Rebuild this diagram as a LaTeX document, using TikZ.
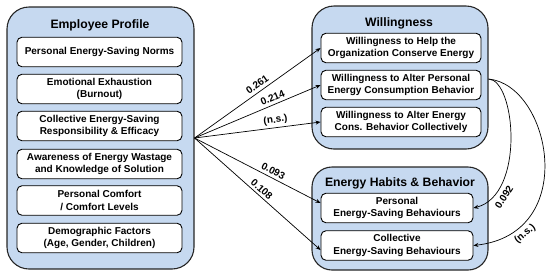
\documentclass[tikz,border=0pt]{standalone}
\usepackage{fontspec}
\setmainfont{Liberation Sans}
\usetikzlibrary{arrows.meta,calc}
\definecolor{boxblue}{RGB}{198,217,240}
\begin{document}
\begin{tikzpicture}[x=1pt,y=-1pt,
  outer/.style={draw=black!85, line width=1.1pt, fill=boxblue, rounded corners=22pt},
  inner/.style={draw=black, line width=0.9pt, fill=white, rounded corners=5pt, align=center,
    font=\fontsize{10}{12.5}\selectfont\bfseries, inner sep=0pt, minimum height=29.5pt},
  ttl/.style={font=\fontsize{12.2}{14}\selectfont\bfseries},
  arr/.style={-{Stealth[length=5pt,width=4pt]}, line width=0.7pt},
  lbl/.style={font=\fontsize{10}{11}\selectfont\bfseries, inner sep=1.5pt}]
\useasboundingbox (0,0) rectangle (550,277);

% Employee profile
\node[outer, minimum width=187pt, minimum height=262pt] (EP) at (100.5,138) {};
\node[ttl] (EPt) at (100,25) {Employee Profile};
\node[inner, minimum width=165pt] (P1) at (99.5,52) {Personal Energy-Saving Norms};
\node[inner, minimum width=165pt] (P2) at (99.5,89) {Emotional Exhaustion\\(Burnout)};
\node[inner, minimum width=165pt] (P3) at (99.5,126) {Collective Energy-Saving\\Responsibility \& Efficacy};
\node[inner, minimum width=165pt] (P4) at (99.5,164) {Awareness of Energy Wastage\\and Knowledge of Solution};
\node[inner, minimum width=165pt] (P5) at (99.5,200.5) {Personal Comfort\\/ Comfort Levels};
\node[inner, minimum width=165pt] (P6) at (99.5,238) {Demographic Factors\\(Age, Gender, Children)};

% Willingness
\node[outer, minimum width=176pt, minimum height=143pt] (WB) at (400,77.5) {};
\node[ttl] (WBt) at (399,23) {Willingness};
\node[inner, minimum width=160pt] (W1) at (401,48) {Willingness to Help the\\Organization Conserve Energy};
\node[inner, minimum width=160pt] (W2) at (401,85) {Willingness to Alter Personal\\Energy Consumption Behavior};
\node[inner, minimum width=160pt] (W3) at (401,122) {Willingness to Alter Energy\\Cons. Behavior Collectively};

% Energy habits
\node[outer, minimum width=176pt, minimum height=103pt, rounded corners=20pt] (EB) at (400,218.5) {};
\node[ttl] (EBt) at (400,183) {Energy Habits \& Behavior};
\node[inner, minimum width=152pt] (E1) at (397,208) {Personal\\Energy-Saving Behaviours};
\node[inner, minimum width=152pt] (E2) at (397,245.5) {Collective\\Energy-Saving Behaviours};

% connectors
\coordinate (src) at (EP.east);
\draw[arr] (src) -- (W1.west) node[lbl, sloped, above=1.5pt, pos=0.53] (l1) {0.261};
\draw[arr] (src) -- (W2.west) node[lbl, sloped, above=1.5pt, pos=0.64] (l2) {0.214};
\draw[arr] (src) -- (W3.west) node[lbl, sloped, above=1pt, pos=0.65] (l3) {(n.s.)};
\draw[arr] (src) -- ([yshift=5pt]E1.west) node[lbl, sloped, above=1.5pt, pos=0.6] (l4) {0.093};
\draw[arr] (src) -- ([yshift=-4.5pt]E2.west) node[lbl, sloped, above=1pt, pos=0.5] (l5) {0.108};

\coordinate (cs) at ($(W2.east -| WB.east)+(0,-6)$);
\draw[arr] (cs) .. controls +(27,1) and +(52,-13) .. (E1.east);
\draw[arr] (cs) .. controls +(62,6) and +(107,-12) .. (E2.east);
\node[lbl, rotate=57] (l6) at (504,197) {0.092};
\node[lbl, rotate=40] (l7) at (525,234) {(n.s.)};
\end{tikzpicture}
\end{document}
